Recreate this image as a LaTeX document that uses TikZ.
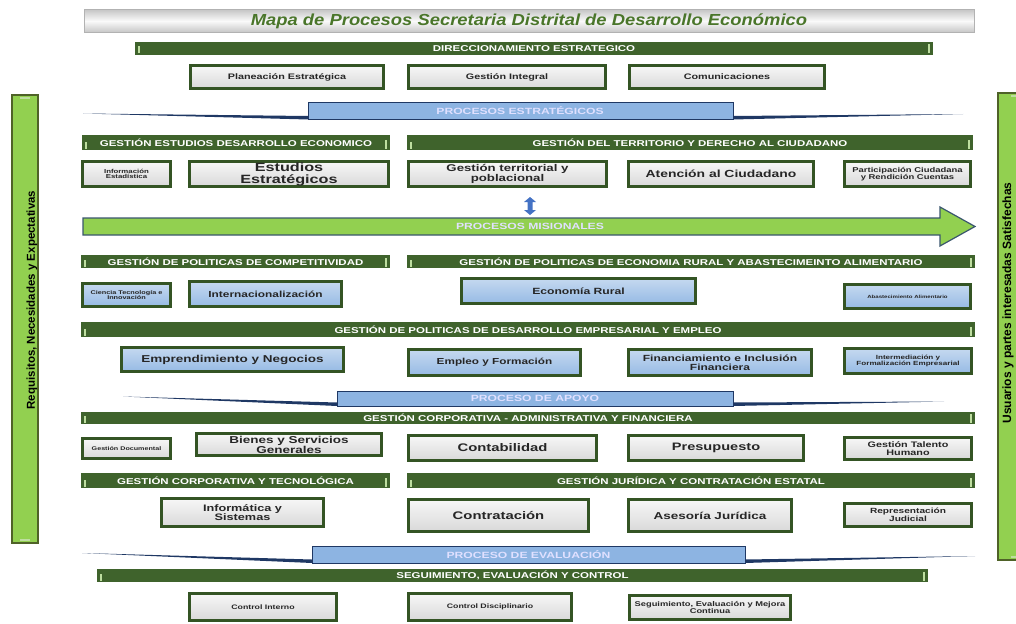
\documentclass[tikz,border=0pt]{standalone}
\usepackage{fontspec}
\setmainfont{Liberation Sans}
\newfontfamily\wfont{Liberation Sans}[FakeStretch=1.35]
\newfontfamily\tfont{Liberation Sans}[FakeStretch=1.15]
\usepackage{xcolor}
\usepackage{tikz}

\definecolor{hgreen}{RGB}{63,99,44}
\definecolor{bgreen}{RGB}{52,84,36}
\definecolor{htick}{RGB}{190,222,160}
\definecolor{agreen}{RGB}{146,208,80}
\definecolor{aedge}{RGB}{58,86,110}
\definecolor{tblue}{RGB}{141,180,226}
\definecolor{navy}{RGB}{31,56,100}
\definecolor{lblue}{RGB}{150,186,228}
\definecolor{tgreen}{RGB}{74,118,42}
\definecolor{dblue}{RGB}{68,114,196}
\definecolor{sedge}{RGB}{79,98,40}

\begin{document}
\begin{tikzpicture}[
    x=1pt, y=-1pt,
    hb/.style={rectangle, fill=hgreen, text=white, inner sep=0pt, font=\wfont\bfseries\fontsize{8.5}{9}\selectfont,
        path picture={
            \draw [htick, line width=1.3pt] ([xshift=4pt,yshift=1.5pt]path picture bounding box.south west) -- ++(0pt,7pt);
            \draw [htick, line width=1.3pt] ([xshift=-4pt,yshift=1.5pt]path picture bounding box.south east) -- ++(0pt,9pt);
        }},
    b1/.style={rectangle, draw=bgreen, line width=2.6pt, top color=gray!6, bottom color=gray!30, text=black!85, align=center, inner sep=1pt},
    b2/.style={b1, top color=lblue!55, bottom color=lblue},
    fz/.style={font=\wfont\bfseries\fontsize{#1}{#1}\selectfont},
    bn/.style={fill=tblue, draw=navy, line width=0.8pt},
    bl/.style={fill=navy},
    bt/.style={text=white!88!blue, font=\wfont\bfseries\fontsize{9}{9}\selectfont, inner sep=0pt},
    sb/.style={rectangle, fill=agreen, draw=sedge, line width=1.6pt, inner sep=0pt,
        path picture={
            \draw [htick, line width=1.2pt] ([yshift=-3pt]path picture bounding box.north) ++(-5pt,0pt) -- ++(10pt,0pt);
            \draw [htick, line width=1.2pt] ([yshift=3pt]path picture bounding box.south) ++(-5pt,0pt) -- ++(10pt,0pt);
        }}
]
    \useasboundingbox (0,0) rectangle (1016,623);

    \node [rectangle, draw=gray!60, top color=gray!45, bottom color=gray!45, middle color=gray!4, minimum width=890pt, minimum height=23pt, text=tgreen, font=\tfont\bfseries\itshape\fontsize{16}{16}\selectfont] (tit) at (529,21) {Mapa de Procesos Secretaria Distrital de Desarrollo Económico};

    \node [sb, minimum width=26pt, minimum height=448pt] (req) at (25,319) {};
    \node [rotate=90, font=\bfseries\fontsize{11.5}{12}\selectfont, inner sep=0pt] (reqt) at (32,300) {Requisitos, Necesidades y Expectativas};
    \node [sb, minimum width=36pt, minimum height=467pt] (usu) at (1016,326.5) {};
    \node [rotate=90, font=\bfseries\fontsize{12}{13}\selectfont, inner sep=0pt] (usut) at (1008,303) {Usuarios y partes interesadas Satisfechas};

    \node [hb, minimum width=798pt, minimum height=13pt] (h0) at (534,48.5) {DIRECCIONAMIENTO ESTRATEGICO};
    \node [b1, fz=8, minimum width=193.4pt, minimum height=23.4pt] (pe) at (287,77) {Planeación Estratégica};
    \node [b1, fz=8, minimum width=197.4pt, minimum height=23.4pt] (gi) at (507,77) {Gestión Integral};
    \node [b1, fz=8, minimum width=195.4pt, minimum height=23.4pt] (co) at (727,77) {Comunicaciones};

    \fill [bl] (83,113.5) -- (308,116) -- (308,119.5) -- cycle;
    \draw [bn] (308,102) rectangle (733,119);
    \fill [bl] (733,116) -- (963,114) -- (733,119.5) -- cycle;
    \node [bt] (pes) at (520,110.5) {PROCESOS ESTRATÉGICOS};

    \node [hb, minimum width=308pt, minimum height=15pt] (h1) at (236,142.5) {GESTIÓN ESTUDIOS DESARROLLO ECONOMICO};
    \node [hb, minimum width=566pt, minimum height=15pt] (h2) at (690,142.5) {GESTIÓN DEL TERRITORIO Y DERECHO AL CIUDADANO};
    \node [b1, fz=5.8, minimum width=88.4pt, minimum height=25.4pt] (ie) at (126.5,174) {Información\\Estadística};
    \node [b1, fz=12, minimum width=199.4pt, minimum height=25.4pt] (ee) at (289,174) {Estudios\\Estratégicos};
    \node [b1, fz=9.8, minimum width=198.4pt, minimum height=25.4pt] (gt) at (507.5,174) {Gestión territorial y\\poblacional};
    \node [b1, fz=10.3, minimum width=185.4pt, minimum height=25.4pt] (ac) at (721,174) {Atención al Ciudadano};
    \node [b1, fz=7, minimum width=126.4pt, minimum height=25.4pt] (pc) at (907.5,174) {Participación Ciudadana\\y Rendición Cuentas};

    \fill [dblue] (530,197) -- (536,202) -- (532.5,202) -- (532.5,210) -- (536,210) -- (530,215) -- (524,210) -- (527.5,210) -- (527.5,202) -- (524,202) -- cycle;
    \draw [fill=agreen, draw=aedge, line width=1.2pt] (83,218) -- (940,218) -- (940,207) -- (975,226.5) -- (940,246) -- (940,235) -- (83,235) -- cycle;
    \node [bt] (pmi) at (530,226.5) {PROCESOS MISIONALES};

    \node [hb, minimum width=309pt, minimum height=13pt] (h3) at (235.5,261.5) {GESTIÓN DE POLITICAS DE COMPETITIVIDAD};
    \node [hb, minimum width=568pt, minimum height=13pt] (h4) at (691,261.5) {GESTIÓN DE POLITICAS DE ECONOMIA RURAL Y ABASTECIMEINTO ALIMENTARIO};
    \node [b2, fz=5.4, minimum width=88.4pt, minimum height=23.4pt] (ct) at (126.5,295) {Ciencia Tecnología e\\Innovación};
    \node [b2, fz=8.8, minimum width=152.4pt, minimum height=25.4pt] (in) at (265.5,294) {Internacionalización};
    \node [b2, fz=9, minimum width=234.4pt, minimum height=25.4pt] (er) at (578.5,291) {Economía Rural};
    \node [b2, fz=4.5, minimum width=126.4pt, minimum height=24.4pt] (aa) at (907.5,296.5) {Abastecimiento Alimentario};

    \node [hb, minimum width=894pt, minimum height=15pt] (h5) at (528,329.5) {GESTIÓN DE POLITICAS DE DESARROLLO EMPRESARIAL Y EMPLEO};
    \node [b2, fz=10, minimum width=222.4pt, minimum height=24.4pt] (en) at (232.5,359.5) {Emprendimiento y Negocios};
    \node [b2, fz=8.7, minimum width=172.4pt, minimum height=26.4pt] (ef) at (494.5,362.5) {Empleo y Formación};
    \node [b2, fz=8.9, minimum width=183.4pt, minimum height=26.4pt] (fi) at (720,362.5) {Financiamiento e Inclusión\\Financiera};
    \node [b2, fz=6, minimum width=127.4pt, minimum height=25.4pt] (im) at (908,361) {Intermediación y\\Formalización Empresarial};

    \fill [bl] (123,396.5) -- (337,402.5) -- (337,406) -- cycle;
    \draw [bn] (337,391) rectangle (733,406);
    \fill [bl] (733,402.5) -- (944,401.5) -- (733,406) -- cycle;
    \node [bt] (pap) at (535,398.5) {PROCESO DE APOYO};

    \node [hb, minimum width=894pt, minimum height=12pt] (h6) at (528,418) {GESTIÓN CORPORATIVA - ADMINISTRATIVA Y FINANCIERA};
    \node [b1, fz=5.3, minimum width=88.4pt, minimum height=20.4pt] (gd) at (126.5,448.5) {Gestión Documental};
    \node [b1, fz=10, minimum width=185.4pt, minimum height=22.4pt] (bs) at (289,444.5) {Bienes y Servicios\\Generales};
    \node [b1, fz=11, minimum width=188.4pt, minimum height=25.4pt] (cb) at (502.5,448) {Contabilidad};
    \node [b1, fz=10.8, minimum width=175.4pt, minimum height=25.4pt] (ps) at (716,448) {Presupuesto};
    \node [b1, fz=8, minimum width=127.4pt, minimum height=22.4pt] (th) at (908,448.5) {Gestión Talento\\Humano};

    \node [hb, minimum width=309pt, minimum height=15pt] (h7) at (235.5,480.5) {GESTIÓN CORPORATIVA Y TECNOLÓGICA};
    \node [hb, minimum width=568pt, minimum height=15pt] (h8) at (691,480.5) {GESTIÓN JURÍDICA Y CONTRATACIÓN ESTATAL};
    \node [b1, fz=9.4, minimum width=162.4pt, minimum height=28.4pt] (is) at (242.5,512.5) {Informática y\\Sistemas};
    \node [b1, fz=11, minimum width=180.4pt, minimum height=32.4pt] (cn) at (498.5,515.5) {Contratación};
    \node [b1, fz=10, minimum width=163.4pt, minimum height=32.4pt] (aj) at (710,515.5) {Asesoría Jurídica};
    \node [b1, fz=7.5, minimum width=127.4pt, minimum height=23.4pt] (rj) at (908,515) {Representación\\Judicial};

    \fill [bl] (82,553) -- (312,559.5) -- (312,563) -- cycle;
    \draw [bn] (312,546) rectangle (745,563);
    \fill [bl] (745,559.5) -- (975,556) -- (745,563) -- cycle;
    \node [bt] (pev) at (528.5,554.5) {PROCESO DE EVALUACIÓN};

    \node [hb, minimum width=831pt, minimum height=13pt] (h9) at (512.5,575.5) {SEGUIMIENTO, EVALUACIÓN Y CONTROL};
    \node [b1, fz=6.5, minimum width=147.4pt, minimum height=27.4pt] (ci) at (263,607) {Control Interno};
    \node [b1, fz=6.5, minimum width=163.4pt, minimum height=27.4pt] (cd) at (490,607) {Control Disciplinario};
    \node [b1, fz=6.9, minimum width=161.4pt, minimum height=24.4pt] (se) at (710,607.5) {Seguimiento, Evaluación y Mejora\\Continua};
\end{tikzpicture}
\end{document}
